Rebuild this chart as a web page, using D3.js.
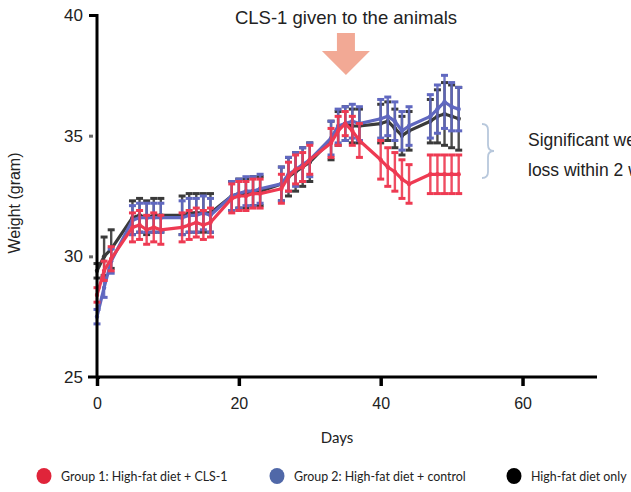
<!DOCTYPE html>
<html>
<head>
<meta charset="utf-8">
<script src="https://cdn.jsdelivr.net/npm/d3@7/dist/d3.min.js"></script>
<style>
  html, body { margin: 0; padding: 0; background: #fff; }
  svg { display: block; }
</style>
</head>
<body>
<svg id="chart" width="631" height="492"></svg>
<script>
// Measurement days
const days = [0, 1, 2, 5, 6, 7, 8, 9, 12, 13, 14, 15, 16, 19, 20, 21, 22, 23,
  26, 27, 28, 29, 30, 33, 34, 35, 36, 37, 40, 41, 42, 43, 44, 47, 48, 49, 50, 51];

// Mean body weight (g) per group
const group1Weight = [28.4, 29.4, 29.9, 31.2, 31.3, 31.1, 31.2, 31.1, 31.2, 31.3, 31.4, 31.3, 31.4,
  32.4, 32.5, 32.5, 32.6, 32.6, 32.8, 33.3, 33.6, 33.7, 34.0, 34.7, 35.2, 35.5, 35.2, 34.8,
  34.0, 33.7, 33.5, 33.2, 33.0, 33.4, 33.4, 33.4, 33.4, 33.4];
const group2Weight = [27.5, 28.7, 29.8, 31.5, 31.6, 31.6, 31.6, 31.6, 31.6, 31.7, 31.7, 31.8, 31.7,
  32.5, 32.6, 32.7, 32.7, 32.8, 33.0, 33.4, 33.6, 33.8, 34.0, 34.9, 35.4, 35.5, 35.6, 35.5,
  35.7, 35.8, 35.6, 35.2, 35.4, 35.8, 36.1, 36.4, 36.2, 36.1];
const hfdOnlyWeight = [29.4, 30.0, 30.3, 31.6, 31.7, 31.6, 31.7, 31.7, 31.7, 31.8, 31.8, 31.8, 31.8,
  32.5, 32.6, 32.6, 32.7, 32.7, 33.0, 33.3, 33.5, 33.7, 33.9, 34.8, 35.3, 35.5, 35.4, 35.4,
  35.5, 35.6, 35.3, 35.0, 35.2, 35.6, 35.8, 35.9, 35.8, 35.7];

// Error (± g) per group
const group1Error = [0.3, 0.4, 0.5, 0.6, 0.6, 0.6, 0.6, 0.6, 0.6, 0.6, 0.6, 0.6, 0.6,
  0.6, 0.6, 0.6, 0.6, 0.6, 0.6, 0.6, 0.6, 0.6, 0.6, 0.6, 0.6, 0.5, 0.6, 0.7,
  0.8, 0.8, 0.8, 0.8, 0.8, 0.8, 0.8, 0.8, 0.8, 0.8];
const group2Error = [0.3, 0.4, 0.5, 0.6, 0.6, 0.6, 0.6, 0.6, 0.7, 0.7, 0.7, 0.7, 0.7,
  0.6, 0.6, 0.6, 0.6, 0.6, 0.7, 0.7, 0.7, 0.7, 0.7, 0.7, 0.7, 0.7, 0.7, 0.7,
  0.8, 0.8, 0.8, 0.8, 0.8, 0.9, 1.0, 1.1, 1.0, 0.9];
const hfdOnlyError = [0.3, 0.8, 0.8, 0.7, 0.7, 0.7, 0.7, 0.7, 0.8, 0.8, 0.8, 0.8, 0.8,
  0.6, 0.6, 0.6, 0.6, 0.6, 0.7, 0.8, 0.8, 0.8, 0.8, 0.8, 0.7, 0.7, 0.7, 0.7,
  0.8, 0.8, 0.8, 0.8, 0.8, 0.9, 1.1, 1.3, 1.3, 1.3];

const xTicks = [0, 20, 40, 60];
const yTicks = [25, 30, 35, 40];
const seriesNames = ["Group 1: High-fat diet + CLS-1", "Group 2: High-fat diet + control", "High-fat diet only"];
const legendColors = ["#e0243a", "#5068a8", "#000000"];

const svg = d3.select("#chart");

const x = d3.scaleLinear().domain([0, 70.5]).range([97, 597]);
const y = d3.scaleLinear().domain([25, 40]).range([377, 15]);

// Draw order: black behind, then blue, red on top
const series = [
  { vals: hfdOnlyWeight, err: hfdOnlyError, color: "#3a3a3a" },
  { vals: group2Weight, err: group2Error, color: "#6068c0" },
  { vals: group1Weight, err: group1Error, color: "#ee3a52" }
];

const plot = svg.append("g");
series.forEach(s => {
  const g = plot.append("g");
  const pts = days.map((d, i) => ({ d, v: s.vals[i], e: s.err[i] }));
  // error bars
  const eb = g.selectAll("g.eb").data(pts).join("g").attr("class", "eb");
  eb.append("line")
    .attr("x1", p => x(p.d)).attr("x2", p => x(p.d))
    .attr("y1", p => y(p.v + p.e)).attr("y2", p => y(p.v - p.e))
    .attr("stroke", s.color).attr("stroke-width", 2.4).attr("opacity", 0.9);
  eb.append("line")
    .attr("x1", p => x(p.d) - 3.5).attr("x2", p => x(p.d) + 3.5)
    .attr("y1", p => y(p.v + p.e)).attr("y2", p => y(p.v + p.e))
    .attr("stroke", s.color).attr("stroke-width", 3);
  eb.append("line")
    .attr("x1", p => x(p.d) - 3.5).attr("x2", p => x(p.d) + 3.5)
    .attr("y1", p => y(p.v - p.e)).attr("y2", p => y(p.v - p.e))
    .attr("stroke", s.color).attr("stroke-width", 3);
  // mean line
  g.append("path")
    .datum(pts)
    .attr("fill", "none")
    .attr("stroke", s.color)
    .attr("stroke-width", 3.2)
    .attr("stroke-linejoin", "round")
    .attr("d", d3.line().x(p => x(p.d)).y(p => y(p.v)));
  g.selectAll("circle").data(pts).join("circle")
    .attr("cx", p => x(p.d)).attr("cy", p => y(p.v)).attr("r", 2.2)
    .attr("fill", s.color);
});

// Axes
const yAxis = svg.append("g")
  .attr("transform", "translate(97,0)")
  .call(d3.axisLeft(y).tickValues(yTicks).tickSize(8).tickPadding(6).tickFormat(d3.format("d")));
yAxis.select(".domain").attr("stroke", "#000").attr("stroke-width", 3)
  .attr("d", "M0,14V378");
yAxis.selectAll(".tick line").attr("stroke", "#000").attr("stroke-width", 3);
yAxis.selectAll(".tick").filter(d => d === 30 || d === 35).select("line")
  .attr("stroke", "#666").attr("stroke-width", 3).attr("x1", -8).attr("x2", -4);
yAxis.selectAll(".tick").filter(d => d === 25).select("line").attr("x2", 3);
yAxis.selectAll(".tick text")
  .attr("font-family", "Liberation Sans, Arial, sans-serif")
  .attr("font-size", 17).attr("fill", "#222");

const xAxis = svg.append("g")
  .attr("transform", "translate(0,377)")
  .call(d3.axisBottom(x).tickValues(xTicks).tickSize(9).tickPadding(12).tickFormat(d3.format("d")));
xAxis.select(".domain").attr("stroke", "#000").attr("stroke-width", 3)
  .attr("d", "M88,0H597");
xAxis.selectAll(".tick line").attr("stroke", "#000").attr("stroke-width", 3.5);
xAxis.selectAll(".tick text")
  .attr("font-family", "Liberation Sans, Arial, sans-serif")
  .attr("font-size", 16).attr("fill", "#222");

// Axis titles
svg.append("text")
  .attr("transform", "translate(20,203) rotate(-90)")
  .attr("text-anchor", "middle")
  .attr("font-family", "Liberation Sans, Arial, sans-serif")
  .attr("font-size", 16).attr("fill", "#222")
  .text("Weight (gram)");
svg.append("text")
  .attr("x", 337).attr("y", 443)
  .attr("text-anchor", "middle")
  .attr("font-family", "Lato, sans-serif")
  .attr("font-size", 15).attr("fill", "#222")
  .text("Days");

// Treatment annotation
svg.append("text")
  .attr("x", 346).attr("y", 24)
  .attr("text-anchor", "middle")
  .attr("font-family", "Liberation Sans, Arial, sans-serif")
  .attr("font-size", 18.5).attr("fill", "#222")
  .text("CLS-1 given to the animals");
const ax = x(35.1);
svg.append("path")
  .attr("d", `M${ax - 9},33 H${ax + 9} V51 H${ax + 24} L${ax},75 L${ax - 24},51 H${ax - 9} Z`)
  .attr("fill", "#f2a995");

// Bracket around the separated curves
const bx = 482;
svg.append("path")
  .attr("d", `M${bx},124 Q${bx + 6},124 ${bx + 6},130 V145 Q${bx + 6},151 ${bx + 12},151 Q${bx + 6},151 ${bx + 6},157 V172 Q${bx + 6},178 ${bx},178`)
  .attr("fill", "none").attr("stroke", "#b8c8dc").attr("stroke-width", 1.8);
svg.append("text")
  .attr("x", 528).attr("y", 146)
  .attr("font-family", "Liberation Sans, Arial, sans-serif")
  .attr("font-size", 17.5).attr("fill", "#222")
  .text("Significant weight");
svg.append("text")
  .attr("x", 528).attr("y", 176)
  .attr("font-family", "Liberation Sans, Arial, sans-serif")
  .attr("font-size", 17.5).attr("fill", "#222")
  .text("loss within 2 weeks");

// Legend
const legendX = [44, 277, 514];
const legend = svg.append("g");
seriesNames.forEach((name, i) => {
  legend.append("ellipse")
    .attr("cx", legendX[i]).attr("cy", 476).attr("rx", 7.5).attr("ry", 8)
    .attr("fill", legendColors[i]);
  legend.append("text")
    .attr("x", legendX[i] + 17).attr("y", 480.5)
    .attr("font-family", "Lato, sans-serif")
    .attr("font-size", 12.4).attr("fill", "#222")
    .text(name);
});
</script>
</body>
</html>
